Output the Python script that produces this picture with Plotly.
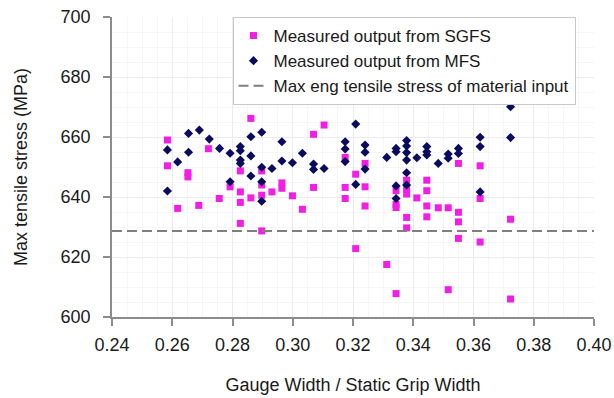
import plotly.graph_objects as go

# Gauge width / static grip width ratios and measured max tensile stress (MPa)
sgfs_ratio = [
    0.2584, 0.2584, 0.2618, 0.2652, 0.2652, 0.2688, 0.2720, 0.2756, 0.2792,
    0.2826, 0.2826, 0.2826, 0.2826, 0.2861, 0.2861,
    0.2897, 0.2897, 0.2897, 0.2897, 0.2931, 0.2964, 0.2964, 0.2999, 0.3032,
    0.3069, 0.3069, 0.3104, 0.3174, 0.3174, 0.3174, 0.3209, 0.3209,
    0.3240, 0.3240, 0.3240, 0.3312, 0.3343, 0.3343, 0.3343, 0.3343,
    0.3378, 0.3378, 0.3378, 0.3378, 0.3378, 0.3412,
    0.3445, 0.3445, 0.3445, 0.3445, 0.3483, 0.3516, 0.3516,
    0.3550, 0.3550, 0.3550, 0.3550, 0.3622, 0.3622, 0.3622, 0.3723, 0.3723,
]
sgfs_stress = [
    659.0, 650.4, 636.2, 648.1, 646.7, 637.2, 656.1, 639.5, 643.4,
    648.7, 641.7, 638.2, 631.2, 666.2, 639.7,
    648.7, 644.0, 640.6, 628.7, 641.7, 644.7, 642.9, 640.4, 635.9,
    660.9, 643.2, 664.0, 653.2, 643.2, 639.5, 647.6, 622.8,
    651.2, 643.4, 637.0, 617.5, 642.1, 637.5, 636.5, 607.8,
    645.6, 642.9, 641.0, 633.2, 629.7, 639.7,
    645.6, 642.1, 637.0, 633.4, 636.4, 636.4, 609.1,
    651.2, 634.9, 631.7, 626.2, 650.4, 639.5, 625.0, 632.6, 606.0,
]

mfs_ratio = [
    0.2584, 0.2584, 0.2618, 0.2654, 0.2654, 0.2690, 0.2723, 0.2757,
    0.2792, 0.2792, 0.2826, 0.2826, 0.2826, 0.2826,
    0.2861, 0.2861, 0.2861, 0.2897, 0.2897, 0.2897, 0.2897,
    0.2931, 0.2964, 0.2964, 0.2999, 0.3032, 0.3069, 0.3069, 0.3104,
    0.3174, 0.3174, 0.3174, 0.3209, 0.3209, 0.3240, 0.3240, 0.3240,
    0.3312, 0.3343, 0.3343, 0.3343, 0.3343,
    0.3378, 0.3378, 0.3378, 0.3378, 0.3378, 0.3378, 0.3412,
    0.3445, 0.3445, 0.3445, 0.3483, 0.3516, 0.3516, 0.3550, 0.3550,
    0.3622, 0.3622, 0.3622, 0.3723, 0.3723,
]
mfs_stress = [
    655.7, 642.0, 651.7, 661.2, 654.9, 662.3, 659.3, 656.2,
    654.6, 645.1, 656.8, 655.4, 652.3, 651.2,
    660.1, 653.7, 647.0, 661.6, 649.9, 645.1, 638.6,
    649.5, 658.4, 652.0, 651.4, 654.6, 651.0, 649.2, 649.5,
    658.4, 656.0, 651.8, 664.3, 644.2, 657.3, 654.9, 649.3,
    653.2, 656.2, 655.1, 643.7, 639.5,
    658.8, 657.0, 654.8, 652.3, 648.1, 644.0, 653.1,
    656.8, 655.1, 654.0, 651.2, 654.3, 652.9, 656.2, 654.5,
    659.9, 656.8, 641.7, 670.1, 659.8,
]

# Max engineering tensile stress of the material input (MPa)
material_stress = 628.7
x_range = [0.24, 0.40]
y_range = [600, 700]
x_ticks = [0.24, 0.26, 0.28, 0.30, 0.32, 0.34, 0.36, 0.38, 0.40]
y_ticks = [600, 620, 640, 660, 680, 700]

FONT = "Liberation Sans, Arial, sans-serif"
TEXT = "#1a1a1a"
AXIS = "#8c8c8c"

fig = go.Figure()

fig.add_trace(go.Scatter(
    x=sgfs_ratio, y=sgfs_stress, mode="markers",
    name="Measured output from SGFS",
    marker=dict(symbol="square", size=7, color="#f21ee6", line=dict(width=0)),
))
fig.add_trace(go.Scatter(
    x=mfs_ratio, y=mfs_stress, mode="markers",
    name="Measured output from MFS",
    marker=dict(symbol="diamond", size=7, color="#0a0a5e", line=dict(width=0)),
))
fig.add_trace(go.Scatter(
    x=x_range, y=[material_stress, material_stress], mode="lines",
    name="Max eng tensile stress of material input",
    line=dict(color="#7f7f7f", width=2, dash="10px,5px"),
))

axis_common = dict(
    showline=True, linecolor=AXIS, linewidth=1.5,
    ticks="outside", ticklen=7, tickcolor=AXIS, tickwidth=1.5,
    showgrid=True, gridcolor="#ececec", gridwidth=1,
    minor=dict(showgrid=True, gridcolor="#f6f6f6", gridwidth=1),
    zeroline=False, mirror=False,
    tickfont=dict(family=FONT, size=18, color=TEXT),
)

fig.update_xaxes(
    range=x_range, tickvals=x_ticks, tickformat=".2f",
    minor_dtick=0.005,
    title=dict(text="Gauge Width / Static Grip Width",
               font=dict(family=FONT, size=18, color=TEXT), standoff=24),
    ticklabelstandoff=4,
    **axis_common,
)
fig.update_yaxes(
    range=y_range, tickvals=y_ticks,
    minor_dtick=5,
    title=dict(text="Max tensile stress (MPa)",
               font=dict(family=FONT, size=18, color=TEXT), standoff=28),
    ticklabelstandoff=9,
    **axis_common,
)

fig.update_layout(
    width=614, height=398,
    margin=dict(l=112, r=20, t=17, b=81, autoexpand=False),
    paper_bgcolor="white", plot_bgcolor="white",
    font=dict(family=FONT, color=TEXT),
    showlegend=True,
    legend=dict(
        x=0.25, y=1.0, xanchor="left", yanchor="top",
        bgcolor="white", bordercolor="#c8c8c8", borderwidth=1,
        font=dict(family=FONT, size=17, color=TEXT),
        tracegroupgap=0, itemwidth=30,
    ),
)

fig.write_html("out.html")
